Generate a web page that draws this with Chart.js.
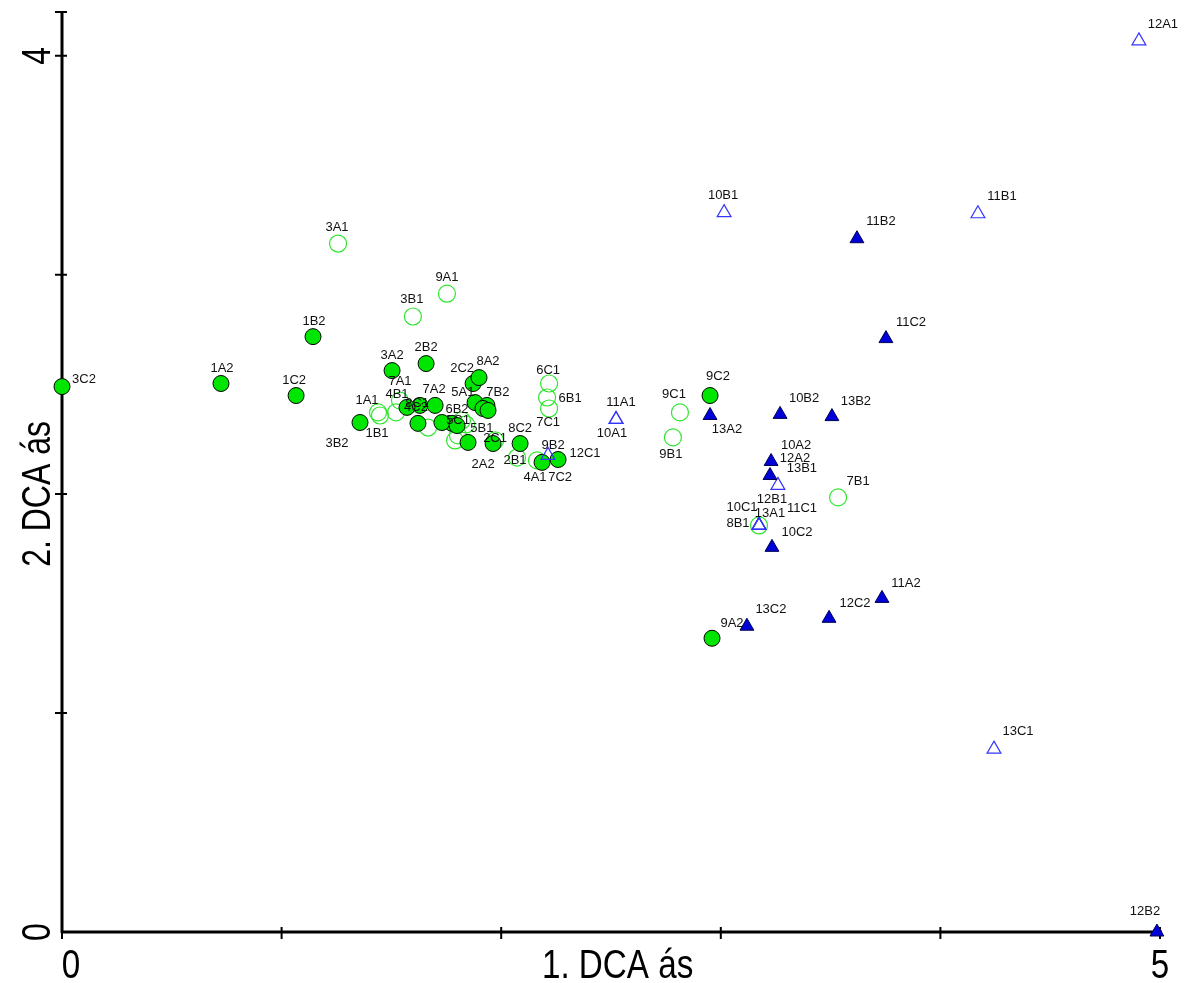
<!DOCTYPE html>
<html><head><meta charset="utf-8">
<script src="https://cdn.jsdelivr.net/npm/chart.js@4.4.0/dist/chart.umd.min.js"></script>
<style>html,body{margin:0;padding:0;background:#fff;}#wrap{width:1186px;height:983px;}</style>
</head><body><div id="wrap"><canvas id="c" width="1186" height="983"></canvas></div>
<script>
// ---- axis ticks and labels ----
const xTickValues = [0, 1, 2, 3, 4, 5];
const yTickValues = [1, 2, 3, 4, 4.2];
const xLabelValues = [0, 2.53, 5];
const xLabelTexts = ['0', '1. DCA ás', '5'];
const yLabelValues = [0, 2, 4];
const yLabelTexts = ['0', '2. DCA ás', '4'];

// ---- filled circles (sites 1-9, sample 2) ----
const filledCircleLabels = ['3C2','1A2','1C2','1B2','3A2','2B2','3B2','4C2','7A2','','','6B2','','','2C2','8A2','','7B2','','','2A2','','8C2','9B2','7C2','9C2','9A2'];
const filledCircleX = [0.000,0.724,1.066,1.143,1.503,1.658,1.357,1.630,1.699,1.571,1.621,1.776,1.730,1.799,1.872,1.899,1.881,1.935,1.917,1.940,1.849,1.963,2.086,2.186,2.259,2.951,2.960];
const filledCircleY = [2.490,2.504,2.449,2.718,2.563,2.595,2.326,2.404,2.404,2.395,2.322,2.322,2.326,2.312,2.504,2.531,2.417,2.404,2.390,2.381,2.235,2.230,2.230,2.144,2.157,2.449,1.341];

// ---- open circles (sites 1-9, sample 1) ----
const openCircleLabels = ['3A1','9A1','3B1','7A1','4B1','1A1','1B1','8C1','5A1','5C1','5B1','','2C1','2B1','4A1','6C1','6B1','7C1','9C1','9B1','7B1','8B1'];
const openCircleX = [1.257,1.753,1.598,1.539,1.521,1.439,1.448,1.667,1.821,1.840,1.803,1.790,1.972,2.072,2.163,2.218,2.209,2.218,2.814,2.782,3.534,3.174];
const openCircleY = [3.143,2.914,2.810,2.426,2.372,2.372,2.358,2.303,2.335,2.317,2.267,2.244,2.244,2.166,2.153,2.504,2.440,2.390,2.372,2.258,1.984,1.856];

// ---- open triangles (sites 10-13, sample 1) ----
const openTriangleLabels = ['11A1','10A1','12C1','10B1','11B1','12A1','13B1','12B1','10C1','13A1','11C1','13C1'];
const openTriangleX = [2.523,2.523,2.213,3.015,4.171,4.904,3.260,3.174,3.174,3.174,3.174,4.244];
const openTriangleY = [2.340,2.340,2.176,3.284,3.279,4.068,2.039,1.856,1.856,1.856,1.856,0.835];

// ---- filled triangles (sites 10-13, sample 2) ----
const filledTriangleLabels = ['13A2','10B2','13B2','11B2','11C2','10A2','12A2','10C2','13C2','12C2','11A2','12B2'];
const filledTriangleX = [2.951,3.270,3.506,3.620,3.752,3.229,3.224,3.233,3.119,3.493,3.734,4.986];
const filledTriangleY = [2.358,2.363,2.353,3.165,2.709,2.148,2.084,1.756,1.396,1.432,1.523,0.000];

// ---- label placement (pixel offsets from the marker) ----
const filledCircleLabelOffsets = [[22,-7],[1,-15],[-2,-15],[1,-15],[0,-15],[0,-16],[-23,21],[-4,2],[-1,-16],null,null,[5,-14],null,null,[-11,-15],[9,-16],null,[11,-13],null,null,[15,22],null,[0,-15],[11,-17],[2,18],[8,-19],[20,-15]];
const openCircleLabelOffsets = [[-1,-16],[0,-16],[-1,-17],[0,-19],[1,-18],[-11,-12],[-3,18],[-11,-24],[1,-28],[-8,-4],[24,-7],null,[0,-2],[-2,3],[-2,17],[-1,-13],[23,1],[-1,14],[-6,-18],[-2,17],[20,-16],[-21,-2]];
const openTriangleLabelOffsets = [[5,-17],[-4,14],[37,-2],[-1,-17],[24,-17],[24,-16],[24,-17],[13,-26],[-17,-18],[11,-12],[43,-17],[24,-18]];
const filledTriangleLabelOffsets = [[17,14],[24,-16],[24,-15],[24,-17],[25,-16],[25,-16],[25,-17],[25,-15],[24,-17],[26,-15],[24,-15],[-12,-21]];

function pts(xArr, yArr) { return xArr.map((x, i) => ({ x: x, y: yArr[i] })); }

const axisPlugin = {
  id: 'axisPlugin',
  beforeDatasetsDraw(chart) {
    const ctx = chart.ctx, xs = chart.scales.x, ys = chart.scales.y;
    const X = v => xs.getPixelForValue(v), Y = v => ys.getPixelForValue(v);
    ctx.save();
    ctx.strokeStyle = '#000';
    ctx.lineWidth = 3;
    ctx.lineCap = 'butt';
    ctx.beginPath();
    ctx.moveTo(X(0), Y(0)); ctx.lineTo(X(5) + 2, Y(0));
    ctx.moveTo(X(0), Y(0) + 1); ctx.lineTo(X(0), Y(4.2));
    ctx.stroke();
    ctx.lineWidth = 2;
    ctx.beginPath();
    xTickValues.forEach(v => { ctx.moveTo(X(v), Y(0) - 5); ctx.lineTo(X(v), Y(0) + 7); });
    yTickValues.forEach(v => { ctx.moveTo(X(0) - 7, Y(v)); ctx.lineTo(X(0) + 5, Y(v)); });
    ctx.stroke();
    // tick / axis labels
    ctx.fillStyle = '#000';
    ctx.font = '40px "Liberation Sans", Arial, sans-serif';
    ctx.textAlign = 'center';
    ctx.textBaseline = 'alphabetic';
    xLabelValues.forEach((v, i) => {
      ctx.save();
      ctx.translate(X(v) + (i === 0 ? 9 : 0), 978);
      ctx.scale(0.83, 1);
      ctx.fillText(xLabelTexts[i], 0, 0);
      ctx.restore();
    });
    yLabelValues.forEach((v, i) => {
      ctx.save();
      ctx.translate(50, Y(v));
      ctx.rotate(-Math.PI / 2);
      ctx.scale(0.8, 1);
      ctx.fillText(yLabelTexts[i], 0, 0);
      ctx.restore();
    });
    ctx.restore();
  },
  afterDatasetsDraw(chart) {
    const ctx = chart.ctx;
    ctx.save();
    ctx.fillStyle = '#111';
    ctx.font = '13px "Liberation Sans", Arial, sans-serif';
    ctx.textAlign = 'center';
    ctx.textBaseline = 'middle';
    chart.data.datasets.forEach((ds, di) => {
      const meta = chart.getDatasetMeta(di);
      meta.data.forEach((el, i) => {
        const lab = ds.pointLabels[i];
        const off = ds.labelOffsets[i];
        if (!lab || !off) return;
        ctx.fillText(lab, el.x + off[0], el.y + off[1]);
      });
    });
    ctx.restore();
  }
};

new Chart(document.getElementById('c'), {
  type: 'scatter',
  data: {
    datasets: [
      { label: 'open circles', data: pts(openCircleX, openCircleY), pointLabels: openCircleLabels, labelOffsets: openCircleLabelOffsets,
        pointStyle: 'circle', pointRadius: 8.5, backgroundColor: 'rgba(0,0,0,0)', borderColor: '#2ee62e', borderWidth: 1.2, order: 4, clip: false },
      { label: 'filled circles', data: pts(filledCircleX, filledCircleY), pointLabels: filledCircleLabels, labelOffsets: filledCircleLabelOffsets,
        pointStyle: 'circle', pointRadius: 8, backgroundColor: '#00e600', borderColor: '#000', borderWidth: 1, order: 3, clip: false },
      { label: 'open triangles', data: pts(openTriangleX, openTriangleY), pointLabels: openTriangleLabels, labelOffsets: openTriangleLabelOffsets,
        pointStyle: 'triangle', pointRadius: 8, backgroundColor: 'rgba(0,0,0,0)', borderColor: '#3535ff', borderWidth: 1.2, order: 2, clip: false },
      { label: 'filled triangles', data: pts(filledTriangleX, filledTriangleY), pointLabels: filledTriangleLabels, labelOffsets: filledTriangleLabelOffsets,
        pointStyle: 'triangle', pointRadius: 8, backgroundColor: '#0000d8', borderColor: '#000050', borderWidth: 1, order: 1, clip: false }
    ]
  },
  options: {
    responsive: false,
    animation: false,
    devicePixelRatio: 1,
    layout: { padding: { top: 12, right: 26, left: 0, bottom: 0 } },
    plugins: { legend: { display: false }, tooltip: { enabled: false } },
    elements: { point: { hoverRadius: 8 } },
    scales: {
      x: { type: 'linear', min: 0, max: 5, grid: { display: false }, border: { display: false }, ticks: { display: false },
           afterFit: s => { s.height = 51; } },
      y: { type: 'linear', min: 0, max: 4.2, grid: { display: false }, border: { display: false }, ticks: { display: false },
           afterFit: s => { s.width = 62; } }
    }
  },
  plugins: [axisPlugin]
});
</script>
</body></html>
